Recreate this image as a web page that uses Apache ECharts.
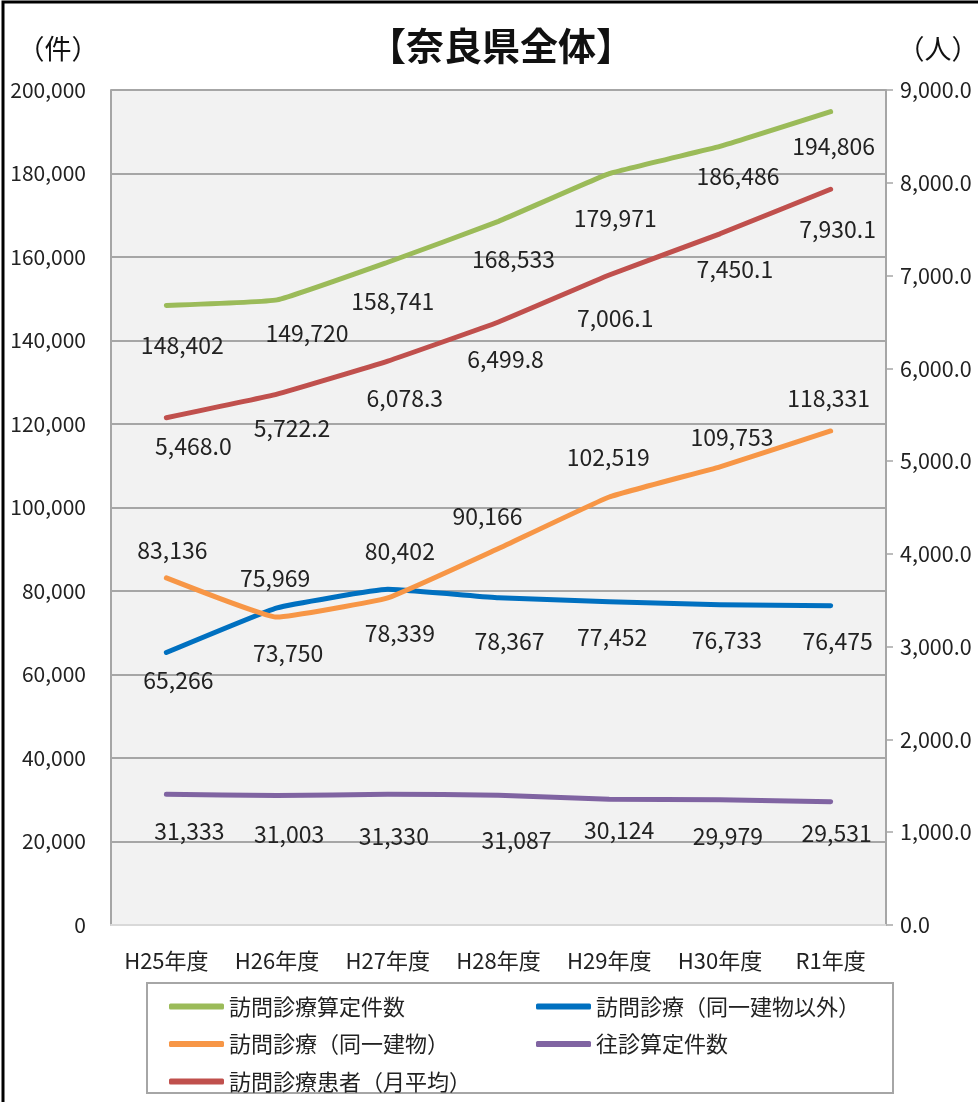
<!DOCTYPE html>
<html>
<head>
<meta charset="utf-8">
<script src="https://cdn.jsdelivr.net/npm/echarts@6/dist/echarts.min.js"></script>
<style>
html,body{margin:0;padding:0;background:#fff;}
#chart{width:978px;height:1102px;}
</style>
</head>
<body>
<div id="chart"></div>
<script>
// ---- data ----
const categories = ['H25年度','H26年度','H27年度','H28年度','H29年度','H30年度','R1年度'];
const santeiKensu   = [148402,149720,158741,168533,179971,186486,194806]; // 訪問診療算定件数
const douitsuIgai   = [65266,75969,80402,78367,77452,76733,76475];        // 訪問診療（同一建物以外）
const douitsu       = [83136,73750,78339,90166,102519,109753,118331];     // 訪問診療（同一建物）
const oushinKensu   = [31333,31003,31330,31087,30124,29979,29531];        // 往診算定件数
const kanjaAvg      = [5468.0,5722.2,6078.3,6499.8,7006.1,7450.1,7930.1]; // 訪問診療患者（月平均）
const leftTicks  = {min:0, max:200000, interval:20000};
const rightTicks = {min:0, max:9000, interval:1000};

// ---- label placement (styling only) ----
const offGreen  = [[16,40],[30,33],[5,39],[15,38],[6,45],[18,30],[3,35]];
const offBlue   = [[12,28],[-2,-30],[12,-38],[11,43],[3,36],[7,36],[7,36]];
const offOrange = [[6,-28],[11,36],[12,35],[-11,-32],[-1,-40],[12,-30],[-2,-33]];
const offPurple = [[23,37],[12,39],[6,42],[18,45],[10,31],[8,36],[6,32]];
const offRed    = [[27,29],[15,34],[17,37],[7,37],[6,43],[15,35],[7,40]];

const FONT = '"Noto Sans CJK JP", "Noto Sans", sans-serif';
function fmtInt(v){ return Math.round(v).toString().replace(/\B(?=(\d{3})+(?!\d))/g, ','); }
function fmt1(v){ const s = Number(v).toFixed(1).split('.'); return s[0].replace(/\B(?=(\d{3})+(?!\d))/g, ',') + '.' + s[1]; }

function mk(name, values, color, offs, yIdx, fmt){
  return {
    name: name, type: 'line', yAxisIndex: yIdx, smooth: 0.1,
    symbol: 'circle', symbolSize: 1, showSymbol: true,
    itemStyle: {color: color},
    lineStyle: {color: color, width: 5, cap: 'round', join: 'round'},
    label: {show: true, position: 'inside', color: '#222', fontSize: 23, fontFamily: FONT,
            formatter: p => fmt(p.value)},
    emphasis: {disabled: true},
    data: values.map((v,i) => ({value: v, label: {offset: offs[i]}}))
  };
}

const chart = echarts.init(document.getElementById('chart'), null, {renderer:'canvas'});
chart.setOption({
  animation: false,
  backgroundColor: '#fff',
  textStyle: {fontFamily: FONT},
  title: [
    {text: '【奈良県全体】', left: 496, top: 22, textAlign: 'center',
     textStyle: {fontSize: 38, fontWeight: 'bold', color: '#111', fontFamily: FONT}},
    {text: '（件）', left: 53, top: 30, textAlign: 'center',
     textStyle: {fontSize: 27, fontWeight: 'normal', color: '#111', fontFamily: FONT}},
    {text: '（人）', left: 933, top: 30, textAlign: 'center',
     textStyle: {fontSize: 27, fontWeight: 'normal', color: '#111', fontFamily: FONT}}
  ],
  graphic: [
    {type: 'rect', z: -10, shape: {x: 3, y: 2, width: 1000, height: 1200},
     style: {fill: 'none', stroke: '#000', lineWidth: 3}},
    {type: 'rect', z: -5, shape: {x: 147, y: 983, width: 746, height: 110},
     style: {fill: '#fff', stroke: '#a6a6a6', lineWidth: 2}}
  ],
  grid: {left: 111, right: 92, top: 90, bottom: 177, show: true,
         backgroundColor: '#f2f2f2', borderWidth: 0},
  legend: [
    {data: ['訪問診療算定件数','訪問診療（同一建物）','訪問診療患者（月平均）'],
     orient: 'vertical', left: 164, top: 989, itemWidth: 55, itemHeight: 6, itemGap: 12.5,
     icon: 'roundRect', selectedMode: false,
     textStyle: {fontSize: 22, lineHeight: 25, color: '#222', fontFamily: FONT}},
    {data: ['訪問診療（同一建物以外）','往診算定件数'],
     orient: 'vertical', left: 531, top: 989, itemWidth: 55, itemHeight: 6, itemGap: 12.5,
     icon: 'roundRect', selectedMode: false,
     textStyle: {fontSize: 22, lineHeight: 25, color: '#222', fontFamily: FONT}}
  ],
  xAxis: {
    type: 'category', data: categories, boundaryGap: true,
    axisLine: {show: true, lineStyle: {color: '#d9d9d9', width: 2}},
    axisTick: {show: false},
    axisLabel: {interval: 0, fontSize: 22, color: '#222', margin: 25, fontFamily: FONT}
  },
  yAxis: [
    {type: 'value', min: leftTicks.min, max: leftTicks.max, interval: leftTicks.interval, position: 'left',
     axisLine: {show: true, lineStyle: {color: '#a6a6a6', width: 2}},
     axisTick: {show: false},
     splitLine: {show: true, showMinLine: false, lineStyle: {color: '#a6a6a6', width: 2}},
     axisLabel: {fontSize: 21, color: '#222', margin: 25, fontFamily: FONT, formatter: v => fmtInt(v)}},
    {type: 'value', min: rightTicks.min, max: rightTicks.max, interval: rightTicks.interval, position: 'right',
     axisLine: {show: true, lineStyle: {color: '#a6a6a6', width: 2}},
     axisTick: {show: true, inside: false, length: 7, lineStyle: {color: '#a6a6a6', width: 1.5}},
     splitLine: {show: false},
     axisLabel: {fontSize: 21.5, color: '#222', margin: 14, fontFamily: FONT, formatter: v => fmt1(v)}}
  ],
  series: [
    mk('訪問診療算定件数', santeiKensu, '#9bbb59', offGreen, 0, fmtInt),
    mk('訪問診療（同一建物以外）', douitsuIgai, '#0070c0', offBlue, 0, fmtInt),
    mk('訪問診療（同一建物）', douitsu, '#f79646', offOrange, 0, fmtInt),
    mk('往診算定件数', oushinKensu, '#8064a2', offPurple, 0, fmtInt),
    mk('訪問診療患者（月平均）', kanjaAvg, '#c0504d', offRed, 1, fmt1)
  ]
});
</script>
</body>
</html>
